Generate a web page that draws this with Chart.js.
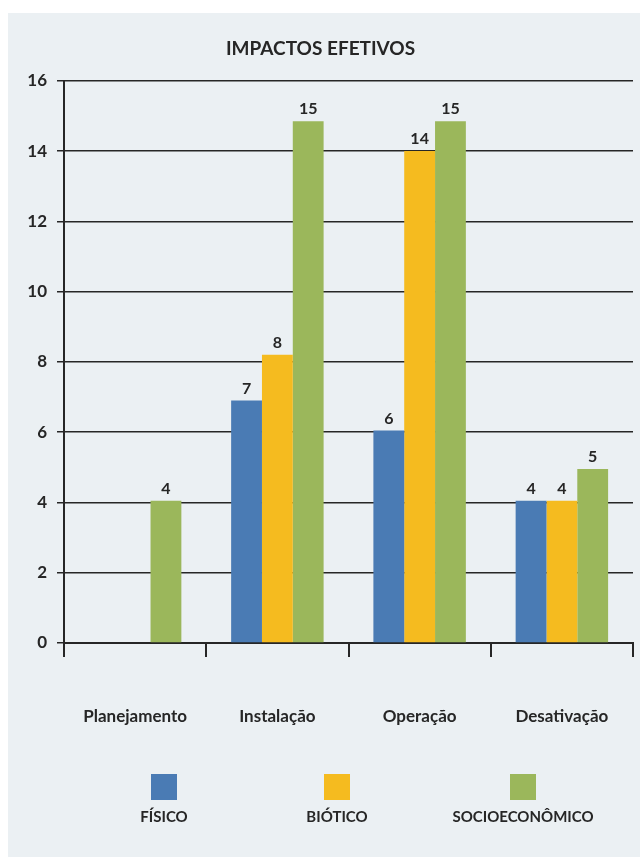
<!DOCTYPE html>
<html>
<head>
<meta charset="utf-8">
<script src="https://cdn.jsdelivr.net/npm/chart.js@4"></script>
<style>
    html, body { margin: 0; padding: 0; background: #ffffff; }
    #wrap { position: absolute; left: 0; top: 0; width: 640px; height: 859px; }
</style>
</head>
<body>
<div id="wrap"><canvas id="chart" width="640" height="859"></canvas></div>
<script>
const categories = ['Planejamento', 'Instalação', 'Operação', 'Desativação'];
const seriesNames = ['FÍSICO', 'BIÓTICO', 'SOCIOECONÔMICO'];
const fisico = [0, 6.9, 6.05, 4.05];
const biotico = [0, 8.2, 14, 4.05];
const socioeconomico = [4.05, 14.85, 14.85, 4.95];
const yTicks = [0, 2, 4, 6, 8, 10, 12, 14, 16];

const colors = ['#4a7bb4', '#f5bb1f', '#9bb75b'];
const font = 'Lato';
const ink = '#262626';

// light panel behind everything
const panelBg = {
    id: 'panelBg',
    beforeDraw(chart) {
        const c = chart.ctx;
        c.save();
        c.fillStyle = '#ffffff';
        c.fillRect(0, 0, chart.width, chart.height);
        c.fillStyle = '#ebf0f3';
        c.fillRect(8, 13, chart.width - 8, chart.height - 15);
        c.restore();
    }
};

// rounded value labels above bars
const valueLabels = {
    id: 'valueLabels',
    afterDatasetsDraw(chart) {
        const c = chart.ctx;
        c.save();
        c.font = 'bold 16px ' + font;
        c.fillStyle = ink;
        c.textAlign = 'center';
        c.textBaseline = 'bottom';
        chart.data.datasets.forEach((ds, i) => {
            chart.getDatasetMeta(i).data.forEach((bar, j) => {
                const v = ds.data[j];
                if (!v) return;
                c.fillText(Math.round(v), bar.x, bar.y - 4);
            });
        });
        c.restore();
    }
};

// legend: swatch above each name
const legendBelow = {
    id: 'legendBelow',
    afterDraw(chart) {
        const c = chart.ctx;
        const centers = [164, 337, 523];
        c.save();
        c.font = 'bold 15px ' + font;
        c.textAlign = 'center';
        c.textBaseline = 'middle';
        chart.data.datasets.forEach((ds, i) => {
            c.fillStyle = ds.backgroundColor;
            c.fillRect(centers[i] - 13, 774, 26, 26);
            c.fillStyle = ink;
            c.fillText(ds.label, centers[i], 817);
        });
        c.restore();
    }
};

new Chart(document.getElementById('chart'), {
    type: 'bar',
    data: {
        labels: categories,
        datasets: [
            { label: seriesNames[0], data: fisico, backgroundColor: colors[0] },
            { label: seriesNames[1], data: biotico, backgroundColor: colors[1] },
            { label: seriesNames[2], data: socioeconomico, backgroundColor: colors[2] }
        ]
    },
    options: {
        responsive: false,
        animation: false,
        categoryPercentage: 0.65,
        barPercentage: 1,
        layout: { padding: { left: 8, right: 7, top: 0, bottom: 0 } },
        plugins: {
            legend: { display: false },
            tooltip: { enabled: false },
            title: {
                display: true,
                text: 'IMPACTOS EFETIVOS',
                color: ink,
                font: { family: font, size: 19, weight: 'bold' },
                padding: { top: 37, bottom: 21 }
            }
        },
        scales: {
            x: {
                grid: { drawOnChartArea: false, color: ink, lineWidth: 2, tickLength: 14 },
                border: { color: ink, width: 2 },
                ticks: { color: ink, font: { family: font, size: 17, weight: 'bold' }, padding: 49 },
                afterFit(scale) {
                    scale.height = 216;
                    scale.paddingLeft = 0;
                    scale.paddingRight = 0;
                }
            },
            y: {
                min: 0,
                max: 16,
                afterBuildTicks(scale) { scale.ticks = yTicks.map(v => ({ value: v })); },
                grid: { color: ink, lineWidth: 1.5, tickLength: 7 },
                border: { color: ink, width: 2 },
                ticks: { color: ink, font: { family: font, size: 17, weight: 'bold' }, padding: 10 },
                afterFit(scale) { scale.width = 56; }
            }
        }
    },
    plugins: [panelBg, valueLabels, legendBelow]
});
</script>
</body>
</html>
